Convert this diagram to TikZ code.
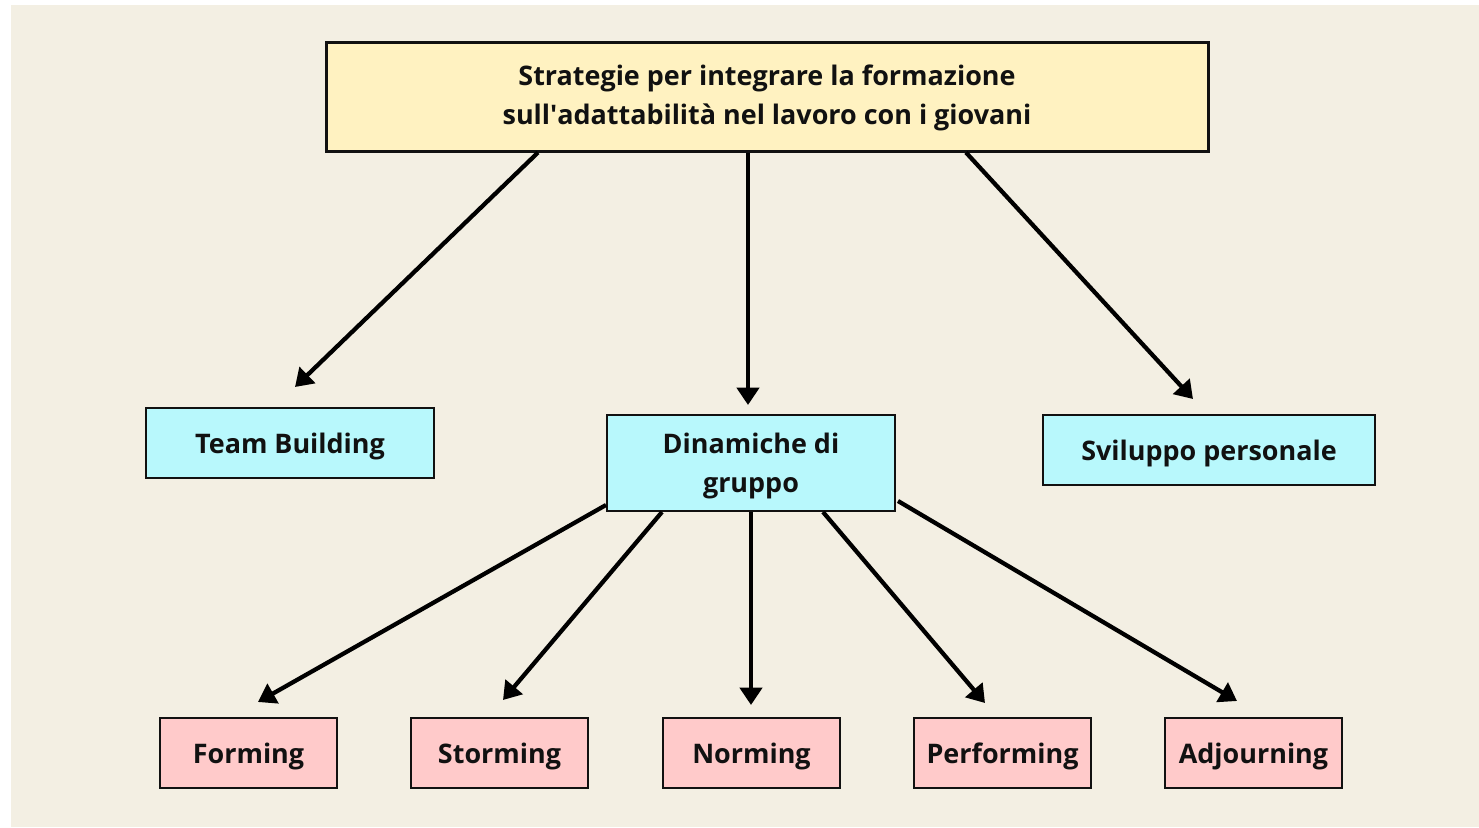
\documentclass[tikz,border=0pt]{standalone}
\usepackage{fontspec}
\setmainfont{Open Sans}
\usetikzlibrary{arrows.meta,calc}
\definecolor{bg}{HTML}{F3EFE3}
\definecolor{topc}{HTML}{FFF2C1}
\definecolor{midc}{HTML}{B8F8FC}
\definecolor{lowc}{HTML}{FFCACA}
\definecolor{ink}{HTML}{111111}
\newcommand{\uprule}[1]{\rule{0pt}{#1}}
\tikzset{
  box/.style={draw=ink, rectangle, align=center, text=ink, font=\bfseries\fontsize{20.2}{29}\selectfont, inner sep=0pt},
  topbox/.style={box, fill=topc, line width=2.25pt, minimum width=661.5pt, minimum height=81.75pt},
  midbox/.style={box, fill=midc, line width=1.5pt, minimum width=216pt, minimum height=52.5pt},
  lowbox/.style={box, fill=lowc, line width=1.5pt, minimum width=132.75pt, minimum height=52.5pt},
  conn/.style={draw=black, line width=3.2pt, -{Triangle[length=13pt,width=16.5pt]}}
}
\begin{document}
\begin{tikzpicture}[x=0.75pt,y=-0.75pt]
\fill[white] (0,0) rectangle (1479,828);
\fill[bg] (11,5) rectangle (1479,827);
\useasboundingbox (0,0) rectangle (1479,828);
\node[topbox] (top) at (767,96.5) {\uprule{17.8pt}Strategie per integrare la formazione\\sull\textquotesingle adattabilità nel lavoro con i giovani};
\node[midbox] (tb) at (290,443) {\uprule{20pt}Team Building};
\node[midbox, minimum height=72pt] (dg) at (751,463) {\uprule{20pt}Dinamiche di\\gruppo};
\node[midbox, minimum width=249pt] (sp) at (1209,450) {\uprule{20pt}Sviluppo personale};
\node[lowbox] (f1) at (248.5,753) {\uprule{20pt}Forming};
\node[lowbox] (f2) at (499.5,753) {\uprule{20pt}Storming};
\node[lowbox] (f3) at (751.5,753) {\uprule{20pt}Norming};
\node[lowbox] (f4) at (1002.5,753) {\uprule{20pt}Performing};
\node[lowbox] (f5) at (1253.5,753) {\uprule{20pt}Adjourning};
\draw[conn] ($(top.south)+(-229,0)$) -- ($(tb.north)+(5,-20)$);
\draw[conn] ($(top.south)+(-19,0)$) -- ($(dg.north)+(-3,-9)$);
\draw[conn] ($(top.south)+(199,0)$) -- ($(sp.north)+(-16,-15)$);
\draw[conn] ($(dg.west)+(0,42)$) -- ($(f1.north)+(9.5,-15)$);
\draw[conn] ($(dg.south)+(-89,0)$) -- ($(f2.north)+(3.5,-17)$);
\draw[conn] (dg.south) -- ($(f3.north)+(-0.5,-12)$);
\draw[conn] ($(dg.south)+(72,0)$) -- ($(f4.north)+(-17.5,-14)$);
\draw[conn] ($(dg.east)+(2,38)$) -- ($(f5.north)+(-16.5,-16)$);
\end{tikzpicture}
\end{document}
